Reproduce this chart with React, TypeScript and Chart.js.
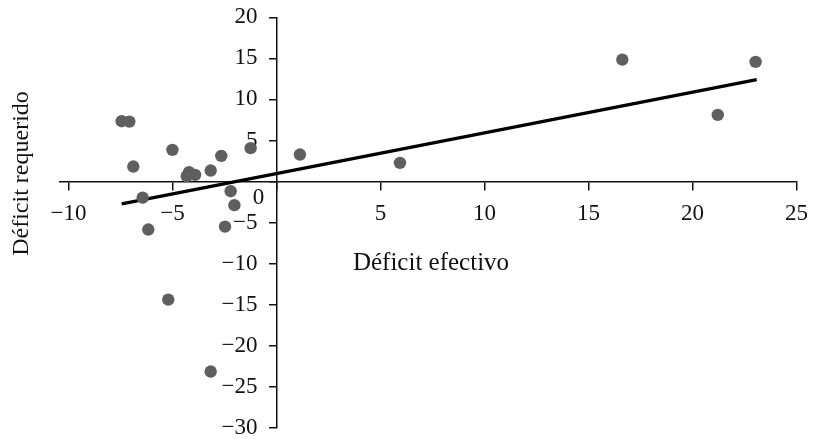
import React, { useEffect, useRef } from 'react';
import { Chart, registerables } from 'chart.js';

Chart.register(...registerables);

// Déficit efectivo (x) and Déficit requerido (y) per observation
const efectivo = [-7.44, -7.07, -6.88, -6.43, -6.16, -5.0, -5.2, -4.2, -4.31, -3.91, -3.16, -2.65, -2.2, -2.02, -2.47, -3.16, -1.24, 1.13, 5.94, 16.63, 21.22, 23.04];
const requerido = [7.35, 7.3, 1.83, -1.95, -5.84, 3.86, -14.37, 1.14, 0.66, 0.82, 1.34, 3.13, -1.17, -2.87, -5.48, -23.13, 4.07, 3.29, 2.28, 14.85, 8.12, 14.57];

// Trend line end points
const trendX = [-7.44, 23.09];
const trendY = [-2.71, 12.42];

const xTicks = [-10, -5, 0, 5, 10, 15, 20, 25];
const yTicks = [-30, -25, -20, -15, -10, -5, 0, 5, 10, 15, 20];

const xTitle = 'Déficit efectivo';
const yTitle = 'Déficit requerido';

const FONT = '"Liberation Serif", "Times New Roman", serif';
const INK = '#111111';
const Y_LABEL_GAP = 19;

const fmt = (v: number) => (v === 0 ? '' : v < 0 ? '\u2212' + Math.abs(v) : String(v));

// Centre-positioned y axis: move its tick labels to the left of the tick marks
const yLabelShift = {
  id: 'yLabelShift',
  beforeDraw(chart: any) {
    const ys = chart.scales.y;
    const items = ys.getLabelItems(chart.chartArea);
    if (!ys._shifted || ys._shifted !== items) {
      items.forEach((it: any) => {
        it.options.translation[0] -= Y_LABEL_GAP;
      });
      ys._shifted = items;
    }
  },
};

const textPlugin = {
  id: 'extraTexts',
  afterDraw(chart: any) {
    const ctx = chart.ctx as CanvasRenderingContext2D;
    const xs = chart.scales.x;
    const ys = chart.scales.y;
    const ox = xs.getPixelForValue(0);
    const oy = ys.getPixelForValue(0);
    ctx.save();
    ctx.fillStyle = INK;
    ctx.textAlign = 'center';
    ctx.textBaseline = 'alphabetic';
    // origin label
    ctx.font = `23px ${FONT}`;
    ctx.fillText('0', ox - 18, oy + 22);
    // x title
    ctx.font = `25px ${FONT}`;
    ctx.fillText(xTitle, 431, 270);
    // y title
    ctx.translate(28, 173.5);
    ctx.rotate(-Math.PI / 2);
    ctx.font = `24px ${FONT}`;
    ctx.fillText(yTitle, 0, 0);
    ctx.restore();
  },
};

export default function App() {
  const ref = useRef<HTMLCanvasElement>(null);
  useEffect(() => {
    const chart = new Chart(ref.current!, {
      type: 'scatter',
      data: {
        datasets: [
          {
            data: efectivo.map((x, i) => ({ x, y: requerido[i] })),
            backgroundColor: '#5f5f5f',
            borderColor: '#5f5f5f',
            borderWidth: 0,
            pointRadius: 6.2,
            pointHoverRadius: 6.2,
          },
          {
            data: trendX.map((x, i) => ({ x, y: trendY[i] })),
            showLine: true,
            borderColor: '#000000',
            borderWidth: 3.2,
            pointRadius: 0,
            fill: false,
          },
        ],
      },
      options: {
        animation: false,
        responsive: false,
        devicePixelRatio: 1,
        events: [],
        layout: { padding: { left: 60.1, right: 16.6, top: 17.3, bottom: 11 } },
        plugins: { legend: { display: false }, tooltip: { enabled: false } },
        scales: {
          x: {
            type: 'linear',
            position: { y: 0 } as any,
            min: -10.4,
            max: 25,
            afterBuildTicks: (s: any) => {
              s.ticks = xTicks.map((value) => ({ value }));
            },
            afterFit: (s: any) => {
              s.paddingLeft = 0;
              s.paddingRight = 0;
            },
            grid: { drawOnChartArea: false, drawTicks: true, tickLength: 8, color: INK, lineWidth: 1.5 },
            border: { display: true, color: INK, width: 1.5 },
            ticks: {
              callback: (v: any) => fmt(Number(v)),
              font: { family: FONT, size: 23 },
              color: INK,
              padding: 11,
              maxRotation: 0,
              autoSkip: false,
            },
          },
          y: {
            type: 'linear',
            position: { x: 0 } as any,
            min: -30,
            max: 20,
            afterBuildTicks: (s: any) => {
              s.ticks = yTicks.map((value) => ({ value }));
            },
            afterFit: (s: any) => {
              s.paddingTop = 0;
              s.paddingBottom = 0;
            },
            grid: { drawOnChartArea: false, drawTicks: true, tickLength: 7, color: INK, lineWidth: 1.5 },
            border: { display: true, color: INK, width: 1.5 },
            ticks: {
              callback: (v: any) => fmt(Number(v)),
              font: { family: FONT, size: 23 },
              color: INK,
              padding: 10,
              autoSkip: false,
            },
          },
        },
      },
      plugins: [yLabelShift, textPlugin],
    });
    return () => chart.destroy();
  }, []);
  return (
    <div style={{ position: 'fixed', left: 0, top: 0, width: 813, height: 439, background: '#ffffff' }}>
      <canvas ref={ref} width={813} height={439} style={{ display: 'block', width: 813, height: 439 }} />
    </div>
  );
}
